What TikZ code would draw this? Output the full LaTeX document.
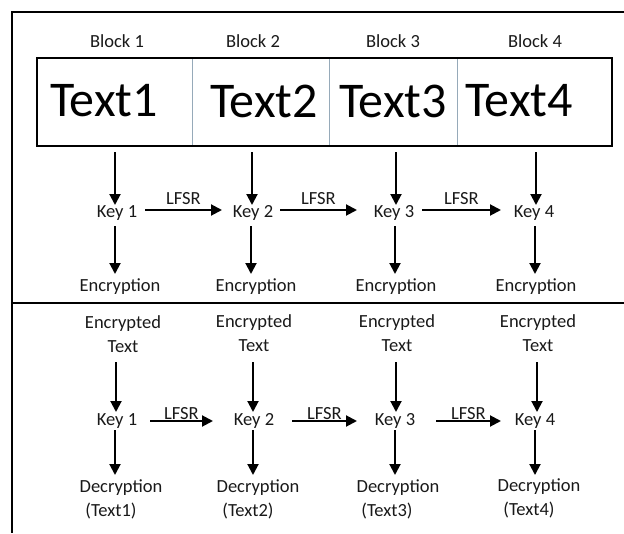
\documentclass[tikz,border=0pt]{standalone}
\usepackage{fontspec}
\setmainfont{Carlito}
\usetikzlibrary{arrows.meta}
\begin{document}
\begin{tikzpicture}[x=1pt,y=-1pt,
  lbl/.style={font=\fontsize{18.5}{20}\selectfont, inner sep=0pt, anchor=center, text=black!90},
  big/.style={font=\fontsize{50}{52}\selectfont, inner sep=0pt, anchor=center},
  flow/.style={line width=2pt, -{Triangle[length=11pt,width=11pt]}},
  frame/.style={line width=2.3pt},
  divider/.style={line width=0.6pt, draw={rgb,255:red,150;green,170;blue,185}}]
\useasboundingbox (0,0) rectangle (624,533);

% outer frame and the line between encryption and decryption
\draw[frame] (624,12) -- (12,12) -- (12,533);
\draw[frame] (12,303) -- (624,303);

% block strip
\draw[divider] (192,58) -- (192,146);
\draw[divider] (329,58) -- (329,146);
\draw[divider] (457,58) -- (457,146);
\draw[frame] (37,58) rectangle (612,146);

\node[lbl] (b1) at (117,41) {Block 1};
\node[lbl] (b2) at (253,41) {Block 2};
\node[lbl] (b3) at (393,41) {Block 3};
\node[lbl] (b4) at (535,41) {Block 4};

\node[big] (t1) at (104,101) {Text1};
\node[big] (t2) at (264,101) {Text2};
\node[big] (t3) at (393,101) {Text3};
\node[big] (t4) at (519,101) {Text4};

\coordinate (s1) at (115,152);
\coordinate (s2) at (252,152);
\coordinate (s3) at (396,152);
\coordinate (s4) at (536,152);

% encryption keys
\node[lbl] (k1) at (117,213) {Key 1};
\node[lbl] (k2) at (253,213) {Key 2};
\node[lbl] (k3) at (394,213) {Key 3};
\node[lbl] (k4) at (534,213) {Key 4};

\node[lbl] (e1) at (120,287) {Encryption};
\node[lbl] (e2) at (256,287) {Encryption};
\node[lbl] (e3) at (396,287) {Encryption};
\node[lbl] (e4) at (536,287) {Encryption};

\draw[flow] (s1) -- (115,205);
\draw[flow] (s2) -- (252,205);
\draw[flow] (s3) -- (396,205);
\draw[flow] (s4) -- (536,205);

\draw[flow] (115,226) -- (115,274);
\draw[flow] (251,226) -- (251,274);
\draw[flow] (395,226) -- (395,274);
\draw[flow] (535,226) -- (535,274);

\draw[flow] (145,210) -- node[lbl, above=4pt] {LFSR} (222,210);
\draw[flow] (280,210) -- node[lbl, above=4pt] {LFSR} (357,210);
\draw[flow] (422,210) -- node[lbl, above=4pt] {LFSR} (501,210);

% decryption side
\node[lbl, align=center] (c1) at (123,334) {Encrypted\\[4pt]Text};
\node[lbl, align=center] (c2) at (254,333) {Encrypted\\[4pt]Text};
\node[lbl, align=center] (c3) at (397,333) {Encrypted\\[4pt]Text};
\node[lbl, align=center] (c4) at (538,333) {Encrypted\\[4pt]Text};

\node[lbl] (d1) at (117,421) {Key 1};
\node[lbl] (d2) at (254,421) {Key 2};
\node[lbl] (d3) at (395,421) {Key 3};
\node[lbl] (d4) at (535,421) {Key 4};

\draw[flow] (116,362) -- (116,412);
\draw[flow] (253,362) -- (253,412);
\draw[flow] (396,362) -- (396,412);
\draw[flow] (537,362) -- (537,412);

\draw[flow] (115,430) -- (115,475);
\draw[flow] (253,430) -- (253,475);
\draw[flow] (395,430) -- (395,475);
\draw[flow] (535,430) -- (535,475);

\draw[flow] (150,421) -- node[lbl, above=0.5pt] {LFSR} (213,421);
\draw[flow] (292,421) -- node[lbl, above=0.5pt] {LFSR} (357,421);
\draw[flow] (436,421) -- node[lbl, above=0.5pt] {LFSR} (501,421);

\node[lbl] (p1) at (121,488) {Decryption};
\node[lbl] (p2) at (258,488) {Decryption};
\node[lbl] (p3) at (398,488) {Decryption};
\node[lbl] (p4) at (539,487) {Decryption};

\node[lbl] (q1) at (111,511) {(Text1)};
\node[lbl] (q2) at (248,511) {(Text2)};
\node[lbl] (q3) at (387,511) {(Text3)};
\node[lbl] (q4) at (529,510) {(Text4)};
\end{tikzpicture}
\end{document}
